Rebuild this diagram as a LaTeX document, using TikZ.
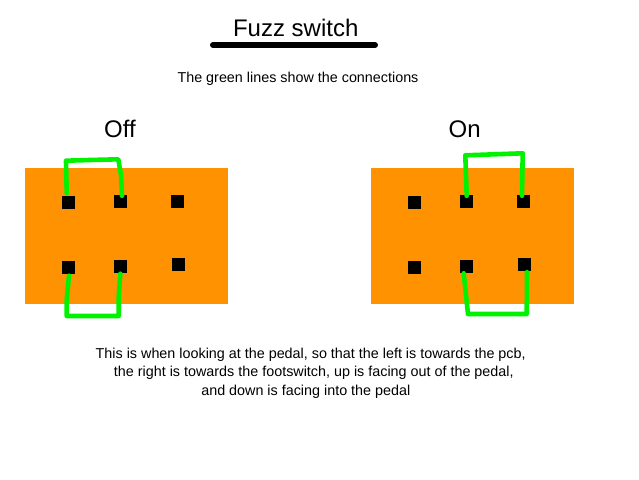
\documentclass[tikz,border=0pt]{standalone}
\usepackage{fontspec}
\setmainfont{Liberation Sans}
\definecolor{boardorange}{RGB}{255,146,0}
\definecolor{wiregreen}{RGB}{0,242,0}
\tikzset{
  board/.style={fill=boardorange,draw=none,minimum width=203pt,minimum height=136pt,inner sep=0pt},
  pad/.style={fill=black,draw=none,minimum size=13pt,inner sep=0pt},
  wire/.style={draw=wiregreen,line width=4.6pt,line cap=round,line join=round},
  label/.style={inner sep=0pt,align=center}
}
\begin{document}
\begin{tikzpicture}[x=1pt,y=1pt]
\useasboundingbox (0,-479) rectangle (639,0);
\node [label,font=\fontsize{24}{28}\selectfont] (title) at (295.7,-27.5) {Fuzz switch};
\coordinate (ruleleft) at (213,-45);
\coordinate (ruleright) at (375,-45);
\draw [black,line width=6pt,line cap=round] (ruleleft) -- (ruleright);
\node [label,font=\fontsize{14.35}{16}\selectfont] (note) at (298,-79) {The green lines show the connections};
\node [label,font=\fontsize{24}{28}\selectfont] (off) at (120,-129) {Off};
\node [label,font=\fontsize{24}{28}\selectfont] (on) at (464.7,-129) {On};
% boards
\node [board] (boardoff) at (126.5,-236) {};
\node [board] (boardon) at (472.5,-236) {};
% off pads
\node [pad] (a1) at (68.5,-202.5) {};
\node [pad] (a2) at (120.5,-201.5) {};
\node [pad] (a3) at (177.5,-201.5) {};
\node [pad] (a4) at (68.5,-267.5) {};
\node [pad] (a5) at (120.5,-266.5) {};
\node [pad] (a6) at (178.5,-264.5) {};
% on pads
\node [pad] (b1) at (414.5,-202.5) {};
\node [pad] (b2) at (466.5,-201.5) {};
\node [pad] (b3) at (523.5,-201.5) {};
\node [pad] (b4) at (414.5,-267.5) {};
\node [pad] (b5) at (466.5,-266.5) {};
\node [pad] (b6) at (524.5,-264.5) {};
% off wires
\draw [wire] ([shift={(-1.8,2.5)}]a1.north) -- (66,-160.7) -- (90,-160) -- (118.3,-159.3) -- (121,-175) -- ([shift={(1.5,-1)}]a2.north);
\draw [wire] ([shift={(0.5,-1.5)}]a4.south) -- (66.7,-300) -- (66.7,-316) -- (118.7,-316) -- (118.7,-296.7) -- ([shift={(-0.2,-0.5)}]a5.south);
% on wires
\draw [wire] ([shift={(0.2,-1)}]b2.north) -- (465.3,-155.3) -- (483.3,-154.7) -- (522.7,-153.3) -- ([shift={(-1.5,-1)}]b3.north);
\draw [wire] ([shift={(-2.8,0)}]b5.south) -- (468,-314) -- (526.7,-314) -- ([shift={(2.5,-1)}]b6.south);
\node [label,font=\fontsize{14.35}{16}\selectfont] (line1) at (310.7,-354.5) {This is when looking at the pedal, so that the left is towards the pcb,};
\node [label,font=\fontsize{14.35}{16}\selectfont] (line2) at (313.8,-373) {the right is towards the footswitch, up is facing out of the pedal,};
\node [label,font=\fontsize{14.35}{16}\selectfont] (line3) at (305.8,-392) {and down is facing into the pedal};
\end{tikzpicture}
\end{document}
